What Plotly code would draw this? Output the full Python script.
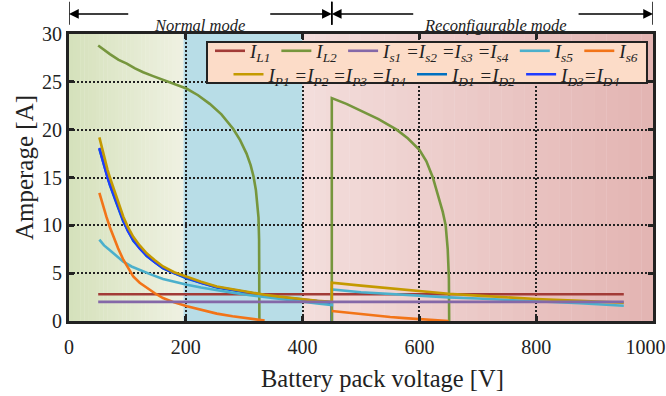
import plotly.graph_objects as go

# ---------------- data ----------------
# I_L1 and I_s1 (flat lines)
x_flat = [50, 950]
iL1 = [2.8, 2.8]
is1 = [2.0, 2.0]

# I_L2 : normal-mode branch, then reconfigurable-mode branch
x_L2 = [50, 60, 70, 85, 99, 113, 127, 144, 161, 181, 201, 221, 241, 261, 281, 293, 304,
        311, 316, 320, 323, 324.5, 325.5, 326, 326, None,
        450, 450, 475, 500, 530, 561, 580, 600, 612, 623, 634, 640, 645, 648.5, 650.5, 651, 651]
iL2 = [28.8, 28.3, 27.9, 27.3, 26.9, 26.4, 26.0, 25.6, 25.2, 24.8, 24.3, 23.6, 22.7, 21.6, 20.1,
       18.9, 17.5, 16.3, 15.1, 13.7, 12.2, 10.8, 8.5, 5.5, 0.0, None,
       0.0, 23.3, 22.7, 22.0, 21.1, 20.0, 19.1, 17.9, 16.7, 15.0, 12.8, 11.4, 10.0, 7.5, 4.5, 2.0, 0.0]

# I_P1 = I_P2 = I_P3 = I_P4
x_P = [52, 57, 62, 66, 70, 76, 82, 88, 93, 101, 110, 121, 133, 147, 161, 180, 202, 226,
       253, 280, 310, 335, 360, 380, 400, 425, 450,
       450, 500, 550, 600, 650, 700, 750, 800, 875, 950]
iP = [19.2, 17.9, 16.7, 15.8, 15.0, 13.9, 12.9, 11.8, 10.9, 9.8, 8.8, 7.9, 7.07, 6.35, 5.7,
      5.1, 4.6, 4.1, 3.6, 3.3, 3.0, 2.75, 2.55, 2.4, 2.25, 2.12, 2.0,
      4.0, 3.7, 3.4, 3.1, 2.85, 2.65, 2.47, 2.3, 2.1, 1.9]

# I_D3 = I_D4
x_D3 = [52, 57, 62, 66, 70, 76, 82, 88, 93, 101, 110, 121, 133, 147, 161, 180, 202, 226,
        253, 280, 310, 335, 360, 380, 400, 425, 450, 450]
iD3 = [18.1, 16.9, 15.9, 15.0, 14.3, 13.3, 12.3, 11.3, 10.5, 9.4, 8.5, 7.6, 6.85, 6.15, 5.55,
       5.0, 4.5, 4.0, 3.55, 3.25, 2.95, 2.7, 2.5, 2.35, 2.2, 2.08, 1.95, 0.0]

# I_D1 = I_D2 (hidden beneath I_D3 in the reference)
x_D1 = [52, 62, 70, 82, 93, 110, 133, 161, 202, 253, 310, 360, 400, 450, 450]
iD1 = [18.0, 15.8, 14.2, 12.2, 10.4, 8.4, 6.8, 5.5, 4.45, 3.5, 2.9, 2.45, 2.15, 1.9, 0.0]

# I_s5
x_s5 = [52, 60, 70, 81, 93, 107, 122, 141, 161, 180, 202, 226, 253, 280, 310, 335, 360, 380,
        401, 425, 450,
        450, 500, 550, 600, 650, 700, 750, 800, 875, 950]
is5 = [8.5, 7.9, 7.4, 6.8, 6.2, 5.7, 5.3, 4.85, 4.4, 4.1, 3.8, 3.5, 3.2, 2.95, 2.7, 2.5, 2.3,
       2.15, 2.0, 1.83, 1.67,
       3.3, 3.0, 2.8, 2.6, 2.47, 2.35, 2.22, 2.1, 1.85, 1.6]

# I_s6
x_s6 = [52, 58, 64, 70, 76, 84, 93, 101, 110, 121, 133, 147, 161, 180, 202, 226, 253, 280,
        304, 320, 335, None,
        450, 475, 500, 525, 550, 575, 600, 625, 650]
is6 = [13.4, 12.1, 10.9, 9.8, 8.8, 7.6, 6.4, 5.5, 4.65, 4.0, 3.45, 2.9, 2.4, 1.95, 1.55, 1.15,
       0.77, 0.5, 0.28, 0.15, 0.04, None,
       1.05, 0.88, 0.7, 0.55, 0.42, 0.3, 0.18, 0.08, 0.0]

x_ticks = [0, 200, 400, 600, 800, 1000]
x_ticktext = ["0", "200", "400", "600", "800", "1000&nbsp;&nbsp;&nbsp;"]
y_ticks = [0, 5, 10, 15, 20, 25, 30]

# background regions: (x0, x1, colour at x0, colour at x1)
regions = [
    (0, 196, (213, 225, 187), (239, 241, 226)),
    (196, 400, (184, 221, 231), (184, 221, 231)),
    (400, 1000, (243, 222, 220), (227, 180, 178)),
]

mode_spans = [(0, 450, "Normal mode", 104, 342), (450, 1000, "Reconfigurable mode", 592, 870)]

# ---------------- figure ----------------
FONT = "Liberation Serif"
fig = go.Figure()

# (name, x, y, colour, legend row, rank) in drawing order
traces = [
    ("I<sub>D1</sub> =I<sub>D2</sub>", x_D1, iD1, "#0070c0", "legend2", 2),
    ("I<sub>D3</sub>=I<sub>D4</sub>", x_D3, iD3, "#1f3bff", "legend2", 3),
    ("I<sub>L1</sub>", x_flat, iL1, "#a23b37", "legend", 1),
    ("I<sub>L2</sub>", x_L2, iL2, "#76963d", "legend", 2),
    ("I<sub>s5</sub>", x_s5, is5, "#4bb0cc", "legend", 4),
    ("I<sub>s6</sub>", x_s6, is6, "#f27418", "legend", 5),
    ("I<sub>P1</sub> =I<sub>P2</sub> =I<sub>P3</sub> =I<sub>P4</sub>", x_P, iP, "#c49a00", "legend2", 1),
    ("I<sub>s1</sub> =I<sub>s2</sub> =I<sub>s3</sub> =I<sub>s4</sub>", x_flat, is1, "#8468a8", "legend", 3),
]
for name, xs, ys, col, lg, rank in traces:
    fig.add_trace(go.Scatter(
        x=xs, y=ys, mode="lines", name=name, legend=lg, legendrank=rank,
        line=dict(color=col, width=2.6), connectgaps=False,
    ))

shapes = []
for x0, x1, c0, c1 in regions:
    n = 1 if c0 == c1 else 30
    w = (x1 - x0) / n
    for i in range(n):
        t = (i + 0.5) / n
        c = tuple(round(c0[k] + (c1[k] - c0[k]) * t) for k in range(3))
        shapes.append(dict(type="rect", xref="x", yref="paper",
                           x0=x0 + i * w, x1=x0 + (i + 1) * w + (0.6 if i < n - 1 else 0),
                           y0=0, y1=1, fillcolor="rgb(%d,%d,%d)" % c,
                           line=dict(width=0), layer="below"))

# legend frame (both legend rows sit inside it)
shapes.append(dict(type="rect", xref="paper", yref="paper", x0=0.2363, x1=0.9897,
                   y0=0.829, y1=0.972, fillcolor="#fcdcc8",
                   line=dict(color="#222", width=2), layer="above"))

annotations = []
ARROW_Y = 1.0697
for xa, xb, label, t1, t2 in mode_spans:
    for xv in (xa, xb):
        shapes.append(dict(type="line", xref="x", yref="paper", x0=xv, x1=xv,
                           y0=1.032, y1=1.112, line=dict(color="black", width=1.5)))
    for head, tail in ((xa, t1), (xb, t2)):
        annotations.append(dict(x=head, y=ARROW_Y, xref="x", yref="paper", ax=tail, ay=0,
                                axref="x", ayref="pixel", showarrow=True, arrowhead=2,
                                arrowsize=1.3, arrowwidth=1.5, arrowcolor="black",
                                standoff=0, startstandoff=0, text=""))
    annotations.append(dict(x=(t1 + t2) / 2, y=ARROW_Y, xref="x", yref="paper",
                            text=label, showarrow=False,
                            font=dict(family=FONT, size=16.5, color="#222", style="italic")))

# axis titles (placed as in the reference, slightly off-centre)
annotations.append(dict(x=0.536, y=-0.199, xref="paper", yref="paper", showarrow=False,
                        text="Battery pack voltage [V]", xanchor="center", yanchor="middle",
                        font=dict(family=FONT, size=24.5, color="#222")))
annotations.append(dict(x=-0.077, y=0.533, xref="paper", yref="paper", showarrow=False,
                        text="Amperage [A]", textangle=-90, xanchor="center", yanchor="middle",
                        font=dict(family=FONT, size=25, color="#222")))

axis_common = dict(
    showline=True, linewidth=3, linecolor="#222", mirror="ticks",
    ticks="inside", ticklen=5, tickwidth=3, tickcolor="#222",
    showgrid=True, gridcolor="#222", gridwidth=1.8, griddash="2px,2px",
    zeroline=False, tickfont=dict(family=FONT, size=20, color="#222"),
    ticklabeloverflow="allow", automargin=False,
)

legend_common = dict(
    orientation="h", xanchor="center", yanchor="middle",
    bgcolor="rgba(0,0,0,0)", borderwidth=0,
    font=dict(family=FONT, size=19, color="#222", style="italic"),
    itemwidth=30, tracegroupgap=0,
)

fig.update_layout(
    width=666, height=396,
    margin=dict(l=69, r=13, t=34, b=75, autoexpand=False),
    paper_bgcolor="white", plot_bgcolor="white",
    shapes=shapes, annotations=annotations,
    xaxis=dict(range=[0, 1000], tickvals=x_ticks, ticktext=x_ticktext,
               ticklabelstandoff=6, **axis_common),
    yaxis=dict(range=[0, 30], tickvals=y_ticks, **axis_common),
    legend=dict(x=0.613, y=0.941, **legend_common),
    legend2=dict(x=0.613, y=0.859, **legend_common),
    showlegend=True,
)

fig.write_html("out.html")
